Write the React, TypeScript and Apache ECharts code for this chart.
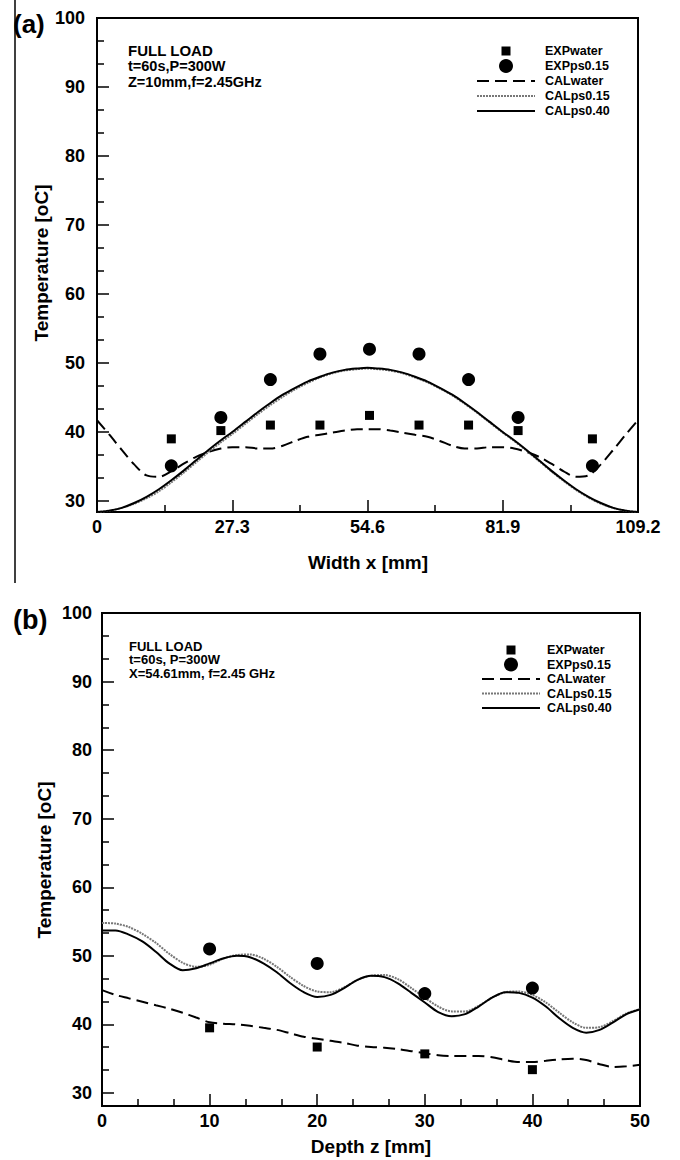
import React, { useEffect, useRef } from "react";
import * as echarts from "echarts";

// ---------- Panel (a): Width x [mm] ----------
const xA = [0, 2.5, 5, 7.5, 10, 12.5, 15, 17.5, 20, 22.5, 25, 27.3, 30, 32.5, 35, 37.5, 40, 42.5, 45, 47.5, 50, 52.5, 54.6, 56.7, 59.2, 61.7, 64.2, 66.7, 69.2, 71.7, 74.2, 76.7, 79.2, 81.9, 84.2, 86.7, 89.2, 91.7, 94.2, 96.7, 99.2, 101.7, 104.2, 106.7, 109.2];
const calWaterA = [41.7, 39.6, 37.4, 35.3, 33.7, 33.5, 34.3, 35.4, 36.4, 37.1, 37.6, 37.8, 37.8, 37.6, 37.6, 38.0, 38.7, 39.3, 39.6, 39.9, 40.2, 40.4, 40.4, 40.4, 40.2, 39.9, 39.6, 39.3, 38.7, 38.0, 37.6, 37.6, 37.8, 37.8, 37.6, 37.1, 36.4, 35.4, 34.3, 33.5, 33.7, 35.3, 37.4, 39.6, 41.7];
const calPs015A = [28.4, 28.6, 29.0, 29.6, 30.4, 31.4, 32.7, 34.1, 35.6, 37.1, 38.5, 39.7, 41.2, 42.6, 43.9, 45.1, 46.2, 47.1, 47.9, 48.5, 48.9, 49.1, 49.2, 49.1, 48.9, 48.5, 47.9, 47.2, 46.3, 45.3, 44.1, 42.8, 41.4, 39.9, 38.7, 37.3, 35.8, 34.3, 32.9, 31.6, 30.5, 29.6, 29.0, 28.6, 28.4];
const calPs040A = [28.4, 28.6, 29.0, 29.7, 30.6, 31.7, 33.0, 34.4, 35.9, 37.4, 38.8, 40.0, 41.5, 42.9, 44.2, 45.4, 46.4, 47.3, 48.0, 48.6, 49.0, 49.2, 49.3, 49.2, 49.0, 48.6, 48.0, 47.3, 46.4, 45.4, 44.2, 42.9, 41.5, 40.0, 38.8, 37.4, 35.9, 34.4, 33.0, 31.7, 30.6, 29.7, 29.0, 28.6, 28.4];
const expXA = [15, 25, 35, 45, 55, 65, 75, 85, 100];
const expWaterA = [39.0, 40.2, 41.0, 41.0, 42.4, 41.0, 41.0, 40.2, 39.0];
const expPsA = [35.1, 42.1, 47.6, 51.3, 52.0, 51.3, 47.6, 42.1, 35.1];
const xTicksA = [0, 27.3, 54.6, 81.9, 109.2];
const xMinorA = [13.65, 40.95, 68.25, 95.55];

// ---------- Panel (b): Depth z [mm] ----------
const xB = [0, 1.25, 2.5, 3.75, 5, 6.25, 7.5, 8.75, 10, 11.25, 12.5, 13.75, 15, 16.25, 17.5, 18.75, 20, 21.25, 22.5, 23.75, 25, 26.25, 27.5, 28.75, 30, 31.25, 32.5, 33.75, 35, 36.25, 37.5, 38.75, 40, 41.25, 42.5, 43.75, 45, 46.25, 47.5, 48.75, 50];
const calWaterB = [45.0, 44.3, 43.8, 43.3, 42.8, 42.3, 41.7, 41.0, 40.3, 40.1, 40.0, 39.8, 39.5, 39.2, 38.7, 38.2, 37.9, 37.6, 37.3, 36.9, 36.7, 36.6, 36.4, 36.1, 35.8, 35.5, 35.4, 35.4, 35.4, 35.2, 34.8, 34.5, 34.5, 34.7, 34.9, 35.0, 34.8, 34.2, 33.8, 33.9, 34.1];
const calPs015B = [54.8, 54.7, 54.2, 53.2, 51.9, 50.3, 49.0, 48.4, 48.7, 49.6, 50.1, 50.2, 49.6, 48.4, 46.9, 45.6, 44.8, 44.7, 45.4, 46.5, 47.1, 47.2, 46.6, 45.3, 43.9, 42.6, 41.9, 41.9, 42.7, 43.9, 44.7, 44.8, 44.3, 43.2, 41.7, 40.3, 39.5, 39.6, 40.5, 41.6, 42.2];
const calPs040B = [53.7, 53.7, 53.1, 52.1, 50.6, 48.9, 47.9, 48.2, 48.9, 49.6, 50.0, 49.8, 48.9, 47.6, 46.0, 44.7, 44.0, 44.3, 45.3, 46.5, 47.1, 46.9, 46.0, 44.6, 43.2, 41.8, 41.2, 41.5, 42.6, 43.9, 44.7, 44.6, 43.9, 42.6, 40.9, 39.5, 38.8, 39.2, 40.3, 41.5, 42.2];
const expXB = [10, 20, 30, 40];
const expWaterB = [39.5, 36.7, 35.7, 33.4];
const expPsB = [51.0, 48.9, 44.5, 45.3];
const xTicksB = [0, 10, 20, 30, 40, 50];
const xMinorB = [3.33, 6.67, 13.33, 16.67, 23.33, 26.67, 33.33, 36.67, 43.33, 46.67];

// ---------- shared ----------
const yTicks = [30, 40, 50, 60, 70, 80, 90, 100];
const yMinor = [33.33, 36.67, 43.33, 46.67, 53.33, 56.67, 63.33, 66.67, 73.33, 76.67, 83.33, 86.67, 93.33, 96.67];
const seriesNames = ["EXPwater", "EXPps0.15", "CALwater", "CALps0.15", "CALps0.40"];

const FONT = '"Liberation Sans", Arial, Helvetica, sans-serif';
const WATER_DASH = [12, 6];
const P15_DASH = [2, 1];
const P15_COLOR = "#777";

const zip = (xs: number[], ys: number[]) => xs.map((x, i) => [x, ys[i]]);

function majorX(grid: number, max: number, ticks: number[]) {
  return {
    type: "value", gridIndex: grid, min: 0, max, position: "bottom",
    axisLine: { show: true, onZero: false, lineStyle: { color: "#000", width: 2 } },
    axisTick: { show: true, inside: true, length: 12, customValues: ticks, lineStyle: { color: "#000", width: 1.5 } },
    axisLabel: { show: true, customValues: ticks, margin: 6, color: "#000", fontSize: 18, fontWeight: "bold", fontFamily: FONT },
    splitLine: { show: false },
  };
}
function minorX(grid: number, max: number, ticks: number[]) {
  return {
    type: "value", gridIndex: grid, min: 0, max, position: "bottom",
    axisLine: { show: false },
    axisTick: { show: true, inside: true, length: 7, customValues: ticks, lineStyle: { color: "#000", width: 1.5 } },
    axisLabel: { show: false },
    splitLine: { show: false },
  };
}
function majorY(grid: number, min: number, margin: number) {
  return {
    type: "value", gridIndex: grid, min, max: 100, position: "left",
    axisLine: { show: true, onZero: false, lineStyle: { color: "#000", width: 2 } },
    axisTick: { show: true, inside: true, length: 12, customValues: yTicks, lineStyle: { color: "#000", width: 1.5 } },
    axisLabel: { show: true, customValues: yTicks, margin, color: "#000", fontSize: 18, fontWeight: "bold", fontFamily: FONT },
    splitLine: { show: false },
  };
}
function minorY(grid: number, min: number) {
  return {
    type: "value", gridIndex: grid, min, max: 100, position: "left",
    axisLine: { show: false },
    axisTick: { show: true, inside: true, length: 7, customValues: yMinor, lineStyle: { color: "#000", width: 1.5 } },
    axisLabel: { show: false },
    splitLine: { show: false },
  };
}

function panelSeries(ax: number, xs: number[], water: number[], p15: number[], p40: number[], ex: number[], ew: number[], ep: number[]) {
  return [
    { name: "CALwater", type: "line", xAxisIndex: ax, yAxisIndex: ax, data: zip(xs, water), symbol: "none", smooth: 0.3, z: 3,
      lineStyle: { color: "#000", width: 2, type: WATER_DASH }, itemStyle: { color: "#000" } },
    { name: "CALps0.15", type: "line", xAxisIndex: ax, yAxisIndex: ax, data: zip(xs, p15), symbol: "none", smooth: 0.3, z: 3,
      lineStyle: { color: P15_COLOR, width: 2, type: P15_DASH }, itemStyle: { color: P15_COLOR } },
    { name: "CALps0.40", type: "line", xAxisIndex: ax, yAxisIndex: ax, data: zip(xs, p40), symbol: "none", smooth: 0.3, z: 4,
      lineStyle: { color: "#000", width: 2 }, itemStyle: { color: "#000" } },
    { name: "EXPwater", type: "scatter", xAxisIndex: ax, yAxisIndex: ax, data: zip(ex, ew), symbol: "rect", symbolSize: 9, z: 5,
      itemStyle: { color: "#000", opacity: 1 } },
    { name: "EXPps0.15", type: "scatter", xAxisIndex: ax, yAxisIndex: ax, data: zip(ex, ep), symbol: "circle", symbolSize: 13, z: 5,
      itemStyle: { color: "#000", opacity: 1 } },
  ];
}

function txt(text: string, x: number, y: number, size: number, align = "left", rotation = 0) {
  return {
    type: "text", x, y, rotation, silent: true,
    style: { text, fill: "#000", font: `bold ${size}px ${FONT}`, align, textAlign: align, verticalAlign: "middle", textVerticalAlign: "middle" },
  };
}

// Legend key drawn as graphic: icon band from x0 to x0+w, text at tx, rows starting at y0 with given step
function legendKey(x0: number, w: number, tx: number, y0: number, step: number) {
  const cx = x0 + w / 2;
  const ys = seriesNames.map((_, i) => y0 + i * step);
  return [
    { type: "rect", silent: true, shape: { x: cx - 4.5, y: ys[0] - 4.5, width: 9, height: 9 }, style: { fill: "#000" } },
    { type: "circle", silent: true, shape: { cx, cy: ys[1], r: 7 }, style: { fill: "#000" } },
    { type: "line", silent: true, shape: { x1: x0, y1: ys[2], x2: x0 + w, y2: ys[2] }, style: { stroke: "#000", lineWidth: 2, lineDash: WATER_DASH } },
    { type: "line", silent: true, shape: { x1: x0, y1: ys[3], x2: x0 + w, y2: ys[3] }, style: { stroke: P15_COLOR, lineWidth: 2, lineDash: P15_DASH } },
    { type: "line", silent: true, shape: { x1: x0, y1: ys[4], x2: x0 + w, y2: ys[4] }, style: { stroke: "#000", lineWidth: 2 } },
    ...seriesNames.map((n, i) => txt(n, tx, ys[i], 12.5)),
  ];
}

export default function App() {
  const ref = useRef<HTMLDivElement>(null);
  useEffect(() => {
    if (!ref.current) return;
    const chart = echarts.init(ref.current, null, { renderer: "svg" });
    const option = {
      animation: false,
      backgroundColor: "#fff",
      grid: [
        { left: 97, top: 18, width: 541, height: 494, show: true, borderColor: "#000", borderWidth: 2, backgroundColor: "transparent" },
        { left: 102, top: 613, width: 538, height: 493, show: true, borderColor: "#000", borderWidth: 2, backgroundColor: "transparent" },
      ],
      xAxis: [majorX(0, 109.2, xTicksA), minorX(0, 109.2, xMinorA), majorX(1, 50, xTicksB), minorX(1, 50, xMinorB)],
      yAxis: [majorY(0, 28.4, 12), minorY(0, 28.4), majorY(1, 28.1, 10), minorY(1, 28.1)],
      series: [
        ...panelSeries(0, xA, calWaterA, calPs015A, calPs040A, expXA, expWaterA, expPsA),
        ...panelSeries(2, xB, calWaterB, calPs015B, calPs040B, expXB, expWaterB, expPsB),
      ],
      graphic: [
        { type: "line", silent: true, shape: { x1: 15, y1: 0, x2: 15, y2: 583 }, style: { stroke: "#000", lineWidth: 1.5 } },
        txt("(a)", 13, 24, 26),
        txt("(b)", 13, 620, 27),
        txt("FULL LOAD", 128, 50, 15),
        txt("t=60s,P=300W", 128, 66, 14.5),
        txt("Z=10mm,f=2.45GHz", 128, 82, 14.5),
        txt("FULL LOAD", 129, 646, 13),
        txt("t=60s, P=300W", 129, 659.5, 13),
        txt("X=54.61mm, f=2.45 GHz", 129, 673, 13),
        txt("Temperature [oC]", 41, 263, 19, "center", Math.PI / 2),
        txt("Temperature [oC]", 44, 860, 19, "center", Math.PI / 2),
        txt("Width x [mm]", 368, 562, 19, "center"),
        txt("Depth z [mm]", 371, 1146, 19, "center"),
        ...legendKey(477, 58, 545, 51, 15),
        ...legendKey(482, 58, 547, 650, 14.5),
      ],
    };
    chart.setOption(option as any);
    return () => chart.dispose();
  }, []);
  return <div ref={ref} style={{ position: "absolute", left: 0, top: 0, width: 680, height: 1160 }} />;
}
